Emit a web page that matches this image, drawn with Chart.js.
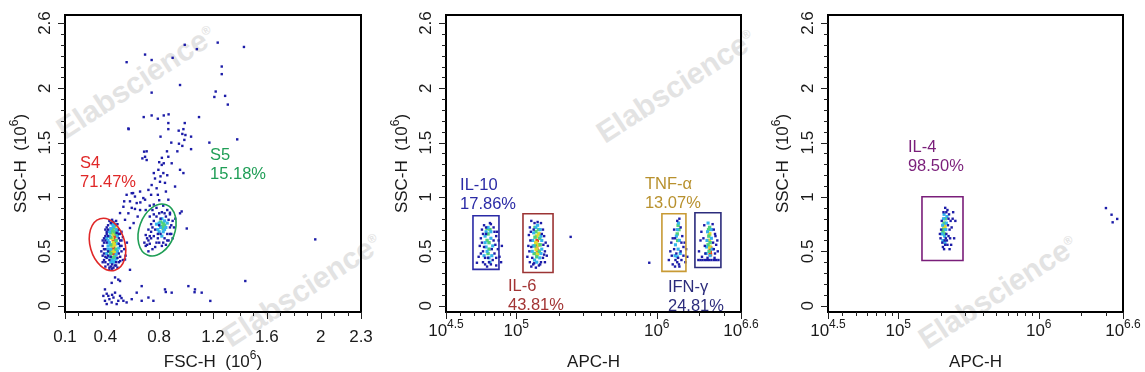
<!DOCTYPE html>
<html>
<head>
<meta charset="utf-8">
<script src="https://cdn.jsdelivr.net/npm/chart.js@4.4.1/dist/chart.umd.min.js"></script>
<style>
  html, body { margin: 0; padding: 0; background: #fff; }
  #wrap { position: relative; width: 1145px; height: 372px; overflow: hidden; }
  .panel { position: absolute; top: 0; height: 372px; z-index: 1; }
  .mark { position: absolute; z-index: 0; font: bold 30px 'Liberation Sans', Arial, sans-serif; color: #e3e3e3; white-space: nowrap; transform: translate(-50%, -50%) rotate(-33deg); }
  .mark sup { font-size: 12px; }
</style>
</head>
<body>
<div id="wrap">
  <div class="mark" style="left:136px;top:82px">Elabscience<sup>®</sup></div>
  <div class="mark" style="left:302px;top:290px">Elabscience<sup>®</sup></div>
  <div class="mark" style="left:676px;top:86px">Elabscience<sup>®</sup></div>
  <div class="mark" style="left:998px;top:292px">Elabscience<sup>®</sup></div>
  <div class="panel" style="left:0;width:381px"><canvas id="fscChart"></canvas></div>
  <div class="panel" style="left:381px;width:381px"><canvas id="apcChart"></canvas></div>
  <div class="panel" style="left:762px;width:383px"><canvas id="il4Chart"></canvas></div>
</div>
<script>
const FONT = "'Liberation Sans', Arial, sans-serif";
const INK = '#1a1a1a';

// axis ticks
const sscTicks = [0, 0.5, 1, 1.5, 2, 2.6];
const sscLabels = ['0', '0.5', '1', '1.5', '2', '2.6'];
const sscMinor = [0.1, 0.2, 0.3, 0.4, 0.6, 0.7, 0.8, 0.9, 1.1, 1.2, 1.3, 1.4, 1.6, 1.7, 1.8, 1.9, 2.1, 2.2, 2.3, 2.4, 2.5];
const fscTicks = [0.1, 0.4, 0.8, 1.2, 1.6, 2, 2.3];
const fscLabels = ['0.1', '0.4', '0.8', '1.2', '1.6', '2', '2.3'];
const fscMinor = [0.2, 0.3, 0.5, 0.6, 0.7, 0.9, 1.0, 1.1, 1.3, 1.4, 1.5, 1.7, 1.8, 1.9, 2.1, 2.2];
const apcExponents = ['4.5', '5', '6', '6.6'];
const apcMinor = [4e4, 5e4, 6e4, 7e4, 8e4, 9e4, 2e5, 3e5, 4e5, 5e5, 6e5, 7e5, 8e5, 9e5, 2e6, 3e6];

// panel 1: FSC-H vs SSC-H (both x10^6)
const fscSparse = [[0.558,2.24],[0.695,2.31],[0.744,2.26],[0.90,2.28],[0.99,2.40],[1.08,2.36],[1.235,2.42],[1.43,2.38],[1.265,2.20],[1.265,2.13],[0.955,2.03],[0.744,1.96],[1.22,1.97],[1.21,1.92],[1.29,1.93],[1.31,1.85],[0.685,1.735],[0.744,1.75],[0.79,1.72],[0.834,1.75],[0.87,1.76],[1.096,1.735],[0.573,1.624],[0.868,1.68],[0.99,1.68],[0.868,1.624],[0.945,1.61],[0.98,1.624],[0.972,1.58],[0.995,1.57],[1.037,1.555],[0.81,1.555],[0.89,1.50],[0.947,1.49],[0.987,1.525],[0.972,1.47],[1.037,1.44],[0.858,1.42],[0.935,1.42],[0.707,1.42],[1.173,1.50],[1.38,1.53],[0.675,1.355],[0.80,1.32],[0.868,1.37],[0.834,1.31]];
const fscBridge = [[0.695,1.37],[0.819,1.295],[0.794,1.25],[0.831,1.22],[0.769,1.17],[0.806,1.14],[0.744,1.11],[0.843,1.13],[0.781,1.08],[0.72,1.065],[0.658,1.05],[0.596,1.035],[0.558,1.02],[0.62,1.004],[0.682,0.99],[0.583,0.96],[0.633,0.944],[0.695,0.975],[0.534,0.91],[0.596,0.90],[0.658,0.88],[0.571,0.85],[0.546,0.79],[0.583,0.715],[0.967,0.867],[0.955,1.25],[0.893,1.31],[0.98,1.22],[0.918,1.096],[0.868,0.975],[0.509,0.852],[0.484,0.67],[1.005,0.71],[0.955,0.85],[0.88,0.855],[0.606,1.036],[0.688,1.417],[0.707,1.34],[0.571,1.63],[0.74,1.02],[0.76,0.93],[0.64,0.82],[0.61,0.76],[0.70,0.88],[0.85,1.05],[0.80,0.97],[0.76,1.22],[0.86,1.20],[0.82,1.36],[0.81,1.19],[0.79,1.02],[0.73,0.92],[0.66,0.95],[0.62,0.89],[0.54,0.96]];
const fscDebris = [[0.546,0.425],[0.583,0.33],[0.496,0.24],[0.447,0.21],[0.397,0.15],[0.472,0.12],[0.422,0.09],[0.509,0.09],[0.534,0.045],[0.447,0.03],[0.397,0.045],[0.596,0.06],[0.67,0.045],[0.72,0.075],[0.757,0.045],[0.633,0.12],[0.67,0.18],[0.843,0.15],[0.893,0.12],[1.017,0.18],[1.066,0.15],[1.116,0.12],[0.385,0.09],[0.46,0.075],[0.496,0.045],[0.41,0.015],[0.484,0.015],[0.558,0.03],[0.509,0.227],[0.472,0.26],[0.849,0.126],[1.063,0.124],[1.18,0.044],[1.44,0.227],[1.96,0.61],[0.43,0.06],[0.45,0.10],[0.52,0.07],[0.41,0.11]];
const s4Blue = [[0.38,0.40],[0.39,0.48],[0.38,0.55],[0.39,0.62],[0.40,0.70],[0.40,0.36],[0.41,0.44],[0.40,0.52],[0.41,0.58],[0.41,0.66],[0.42,0.74],[0.42,0.38],[0.43,0.33],[0.44,0.36],[0.45,0.34],[0.47,0.37],[0.49,0.35],[0.50,0.40],[0.51,0.45],[0.52,0.50],[0.51,0.55],[0.52,0.60],[0.51,0.66],[0.50,0.70],[0.49,0.75],[0.48,0.78],[0.46,0.77],[0.44,0.76],[0.53,0.42],[0.54,0.52],[0.53,0.63],[0.55,0.46],[0.56,0.58],[0.40,0.45],[0.42,0.50],[0.39,0.58],[0.43,0.42],[0.48,0.40],[0.50,0.62],[0.52,0.68],[0.38,0.46],[0.42,0.64],[0.49,0.44],[0.40,0.40],[0.41,0.72],[0.39,0.42],[0.40,0.60],[0.41,0.68],[0.43,0.78],[0.45,0.79],[0.50,0.48],[0.51,0.60],[0.52,0.55],[0.43,0.35],[0.46,0.35],[0.48,0.37],[0.42,0.46],[0.44,0.45],[0.39,0.52],[0.40,0.64],[0.42,0.70],[0.50,0.66],[0.50,0.57],[0.51,0.41],[0.45,0.38],[0.38,0.60],[0.37,0.50]];
const s4Cyan = [[0.41,0.48],[0.42,0.55],[0.42,0.60],[0.43,0.68],[0.43,0.45],[0.44,0.40],[0.46,0.40],[0.48,0.43],[0.49,0.50],[0.49,0.57],[0.49,0.64],[0.48,0.70],[0.46,0.73],[0.44,0.71],[0.42,0.52],[0.41,0.62],[0.47,0.75],[0.50,0.53],[0.43,0.58],[0.44,0.52],[0.45,0.42],[0.48,0.47],[0.47,0.41],[0.43,0.64],[0.45,0.75],[0.49,0.68]];
const s4Green = [[0.43,0.50],[0.44,0.56],[0.44,0.63],[0.45,0.69],[0.45,0.44],[0.47,0.45],[0.48,0.52],[0.48,0.60],[0.47,0.68],[0.46,0.72],[0.44,0.48],[0.48,0.66],[0.44,0.67],[0.47,0.74],[0.46,0.44]];
const s4Yellow = [[0.45,0.50],[0.46,0.58],[0.46,0.66],[0.47,0.71],[0.47,0.50],[0.45,0.62],[0.47,0.56],[0.45,0.55],[0.46,0.69]];
const s4Red = [[0.46,0.48],[0.46,0.53],[0.465,0.57],[0.46,0.61],[0.47,0.64],[0.47,0.60],[0.465,0.51],[0.47,0.67]];
const s5Blue = [[0.70,0.55],[0.72,0.60],[0.70,0.65],[0.72,0.70],[0.74,0.75],[0.73,0.82],[0.75,0.88],[0.78,0.90],[0.80,0.85],[0.83,0.92],[0.86,0.88],[0.88,0.84],[0.90,0.78],[0.91,0.72],[0.89,0.66],[0.87,0.60],[0.85,0.56],[0.82,0.55],[0.78,0.58],[0.75,0.52],[0.73,0.57],[0.76,0.64],[0.77,0.70],[0.76,0.78],[0.79,0.62],[0.81,0.66],[0.84,0.62],[0.86,0.66],[0.88,0.72],[0.84,0.85],[0.81,0.80],[0.78,0.82],[0.74,0.68],[0.71,0.62],[0.69,0.58],[0.92,0.80],[0.90,0.62],[0.83,0.58],[0.80,0.74],[0.87,0.79],[0.72,0.50],[0.77,0.54],[0.74,0.62],[0.75,0.72],[0.79,0.66],[0.80,0.58],[0.82,0.86],[0.85,0.82],[0.88,0.66],[0.86,0.60],[0.76,0.84],[0.73,0.64],[0.71,0.56],[0.89,0.74]];
const s5Cyan = [[0.79,0.70],[0.80,0.76],[0.82,0.80],[0.84,0.78],[0.85,0.72],[0.83,0.68],[0.81,0.72],[0.86,0.76],[0.78,0.75],[0.82,0.64],[0.80,0.68],[0.84,0.70]];
const s5Green = [[0.82,0.73],[0.83,0.76],[0.84,0.74],[0.81,0.77],[0.83,0.71]];

// panel 2: APC-H (linear units) vs SSC-H
const il10Blue = [[54000,0.45],[55000,0.55],[56000,0.62],[57000,0.70],[58000,0.40],[58000,0.50],[59000,0.74],[60000,0.38],[61000,0.66],[62000,0.36],[63000,0.44],[66000,0.38],[68000,0.42],[70000,0.48],[71000,0.56],[72000,0.64],[69000,0.72],[66000,0.75],[74000,0.52],[76000,0.45],[75000,0.60],[78000,0.40],[73000,0.68],[56000,0.48],[57000,0.58],[52500,0.395],[79000,0.55],[72000,0.37],[58000,0.66],[59000,0.54],[60000,0.44],[64000,0.40],[67000,0.52],[69000,0.60],[70000,0.68],[65000,0.76],[61000,0.72],[72000,0.44]];
const il10Cyan = [[59000,0.46],[60000,0.58],[61000,0.68],[62000,0.50],[63000,0.72],[66000,0.62],[67000,0.46],[65000,0.40],[68000,0.55],[60000,0.64],[61000,0.54],[66000,0.68],[64000,0.44]];
const il10Green = [[62000,0.60],[63000,0.66],[64000,0.52],[65000,0.70],[64000,0.58],[63000,0.48],[62000,0.71]];
const il6Blue = [[120000,0.45],[122000,0.55],[123000,0.65],[125000,0.72],[125000,0.40],[128000,0.36],[132000,0.38],[138000,0.35],[145000,0.37],[150000,0.40],[155000,0.44],[160000,0.50],[162000,0.58],[158000,0.64],[155000,0.70],[150000,0.76],[142000,0.77],[135000,0.76],[128000,0.78],[165000,0.46],[168000,0.55],[124000,0.50],[126000,0.60],[160000,0.40],[130000,0.44],[152000,0.66],[133000,0.70],[244000,0.633],[127000,0.68],[128000,0.54],[156000,0.56],[158000,0.47],[134000,0.39],[148000,0.38]];
const il6Cyan = [[130000,0.50],[131000,0.60],[133000,0.67],[135000,0.42],[140000,0.40],[147000,0.44],[152000,0.52],[152000,0.60],[148000,0.70],[138000,0.72],[132000,0.55],[150000,0.48],[150000,0.64],[142000,0.74]];
const il6Green = [[135000,0.55],[136000,0.63],[138000,0.68],[140000,0.45],[146000,0.50],[147000,0.62],[144000,0.70],[134000,0.48],[136000,0.72],[148000,0.56]];
const il6Yellow = [[138000,0.58],[140000,0.64],[144000,0.56],[142000,0.48],[145000,0.66],[139000,0.52]];
const il6Red = [[140000,0.52],[142000,0.56],[141000,0.60],[143000,0.50],[141000,0.48]];
const tnfBlue = [[1.22e6,0.42],[1.25e6,0.50],[1.27e6,0.58],[1.30e6,0.38],[1.35e6,0.36],[1.40e6,0.40],[1.45e6,0.36],[1.50e6,0.42],[1.55e6,0.46],[1.60e6,0.40],[1.62e6,0.52],[1.58e6,0.58],[1.52e6,0.64],[1.48e6,0.72],[1.45e6,0.80],[1.40e6,0.78],[1.33e6,0.70],[1.30e6,0.62],[1.38e6,0.48],[1.55e6,0.54],[1.65e6,0.45],[1.28e6,0.46],[1.42e6,0.44],[8.85e5,0.395],[1.33e6,0.52],[1.36e6,0.42],[1.48e6,0.50],[1.50e6,0.58],[1.35e6,0.62],[1.44e6,0.38]];
const tnfCyan = [[1.36e6,0.56],[1.38e6,0.64],[1.40e6,0.70],[1.42e6,0.52],[1.45e6,0.60],[1.35e6,0.46],[1.47e6,0.48],[1.43e6,0.76],[1.40e6,0.45]];
const tnfGreen = [[1.40e6,0.66],[1.42e6,0.74],[1.44e6,0.70],[1.41e6,0.60]];
const ifnBlue = [[2.0e6,0.50],[2.05e6,0.60],[2.08e6,0.68],[2.1e6,0.45],[2.6e6,0.48],[2.65e6,0.56],[2.62e6,0.64],[2.55e6,0.70],[2.5e6,0.75],[2.7e6,0.60],[2.72e6,0.50],[2.58e6,0.44],[2.18e6,0.74],[2.2e6,0.55],[2.52e6,0.58],[1.98e6,0.42],[2.05e6,0.42],[2.12e6,0.42],[2.2e6,0.42],[2.28e6,0.42],[2.36e6,0.42],[2.45e6,0.42],[2.55e6,0.42],[2.65e6,0.42],[2.75e6,0.42],[2.15e6,0.62],[2.22e6,0.48],[2.55e6,0.52],[2.6e6,0.66],[2.3e6,0.44]];
const ifnCyan = [[2.25e6,0.48],[2.28e6,0.60],[2.30e6,0.68],[2.45e6,0.62],[2.48e6,0.52],[2.40e6,0.46],[2.32e6,0.76],[2.26e6,0.54],[2.46e6,0.70]];
const ifnGreen = [[2.32e6,0.56],[2.35e6,0.64],[2.38e6,0.72],[2.40e6,0.58],[2.36e6,0.50],[2.34e6,0.70]];
const ifnYellow = [[2.37e6,0.60],[2.38e6,0.66],[2.39e6,0.54]];
const ifnRed = [[2.4e6,0.50],[2.42e6,0.53],[2.41e6,0.47]];

// panel 3: IL-4
const il4Blue = [[200000,0.62],[202000,0.70],[204000,0.78],[206000,0.58],[208000,0.54],[212000,0.52],[216000,0.56],[222000,0.60],[228000,0.64],[232000,0.70],[236000,0.78],[230000,0.84],[224000,0.88],[216000,0.90],[210000,0.86],[240000,0.72],[244000,0.80],[250000,0.62],[238000,0.56],[226000,0.74],[220000,0.66],[246000,0.86],[255000,0.78],[198000,0.66],[214000,0.60],[232000,0.52],[224000,0.56],[218000,0.62],[228000,0.80],[234000,0.62],[220000,0.86],[3.01e6,0.898],[3.30e6,0.837],[3.36e6,0.767],[3.62e6,0.798]];
const il4Cyan = [[205000,0.66],[207000,0.74],[210000,0.80],[214000,0.64],[218000,0.70],[222000,0.82],[215000,0.58],[208000,0.60],[220000,0.76],[212000,0.84]];
const il4Green = [[210000,0.70],[212000,0.76],[216000,0.80],[213000,0.66],[208000,0.68]];
const il4Yellow = [[212000,0.73],[214000,0.72]];
const il4Red = [[213000,0.725]];

const density = [
  { color: '#1c1ca8', r: 1.7 },
  { color: '#35b4ec', r: 2.2 },
  { color: '#4fd27a', r: 2.4 },
  { color: '#dedc2c', r: 2.6 },
  { color: '#e2481e', r: 2.6 },
];

function levelSets(levels) {
  // levels: array of point lists, index = density level
  const sets = [];
  levels.forEach((pts, lvl) => {
    pts.forEach(list => {
      sets.push({
        data: list.map(p => ({ x: p[0], y: p[1] })),
        pointStyle: 'rect',
        pointRadius: density[lvl].r,
        pointBorderWidth: 0,
        backgroundColor: density[lvl].color,
        borderColor: density[lvl].color,
        showLine: false,
      });
    });
  });
  return sets;
}

function drawParts(ctx, parts, x, y, size, align) {
  const supSize = Math.round(size * 0.72);
  const widths = parts.map(p => {
    ctx.font = (p.sup ? supSize : size) + 'px ' + FONT;
    return ctx.measureText(p.t).width;
  });
  const total = widths.reduce((a, b) => a + b, 0);
  let cx = align === 'center' ? x - total / 2 : x;
  parts.forEach((p, i) => {
    ctx.font = (p.sup ? supSize : size) + 'px ' + FONT;
    ctx.fillText(p.t, cx, p.sup ? y - size * 0.5 : y);
    cx += widths[i];
  });
}

const flowDecor = {
  id: 'flowDecor',
  afterDatasetsDraw(chart, args, opts) {
    const ctx = chart.ctx;
    const a = chart.chartArea;
    const xs = chart.scales.x, ys = chart.scales.y;
    ctx.save();

    // gates and their labels
    opts.gates.forEach(g => {
      ctx.strokeStyle = g.color;
      ctx.lineWidth = 1.6;
      ctx.beginPath();
      if (g.shape === 'ellipse') {
        const cx = xs.getPixelForValue(g.cx), cy = ys.getPixelForValue(g.cy);
        const rx = Math.abs(xs.getPixelForValue(g.cx + g.rx) - cx);
        const ry = Math.abs(ys.getPixelForValue(g.cy + g.ry) - cy);
        ctx.ellipse(cx, cy, rx, ry, g.tilt, 0, Math.PI * 2);
      } else {
        const x0 = xs.getPixelForValue(g.x0), x1 = xs.getPixelForValue(g.x1);
        const y0 = ys.getPixelForValue(g.y0), y1 = ys.getPixelForValue(g.y1);
        ctx.rect(x0, y1, x1 - x0, y0 - y1);
      }
      ctx.stroke();
      ctx.fillStyle = g.textColor;
      ctx.font = '16.5px ' + FONT;
      ctx.textAlign = 'left';
      ctx.textBaseline = 'alphabetic';
      const lx = xs.getPixelForValue(g.lx), ly = ys.getPixelForValue(g.ly);
      ctx.fillText(g.name, lx, ly);
      ctx.fillText(g.pct, lx, ly + 19);
    });

    // frame
    ctx.strokeStyle = '#000';
    ctx.lineWidth = 2;
    ctx.strokeRect(a.left, a.top, a.right - a.left, a.bottom - a.top);

    // tick marks
    ctx.lineWidth = 1;
    ctx.strokeStyle = '#222';
    ctx.beginPath();
    sscTicks.forEach(v => { const p = Math.round(ys.getPixelForValue(v)) + 0.5; ctx.moveTo(a.left - 7, p); ctx.lineTo(a.left, p); });
    sscMinor.forEach(v => { const p = Math.round(ys.getPixelForValue(v)) + 0.5; ctx.moveTo(a.left - 4, p); ctx.lineTo(a.left, p); });
    opts.xMajor.forEach(v => { const p = Math.round(xs.getPixelForValue(v)) + 0.5; ctx.moveTo(p, a.bottom); ctx.lineTo(p, a.bottom + 7); });
    opts.xMinor.forEach(v => { const p = Math.round(xs.getPixelForValue(v)) + 0.5; ctx.moveTo(p, a.bottom); ctx.lineTo(p, a.bottom + 4); });
    ctx.stroke();

    ctx.fillStyle = INK;
    ctx.textBaseline = 'alphabetic';

    // y tick labels, rotated
    sscTicks.forEach((v, i) => {
      ctx.save();
      ctx.translate(a.left - 15, ys.getPixelForValue(v));
      ctx.rotate(-Math.PI / 2);
      ctx.font = '17px ' + FONT;
      ctx.textAlign = 'center';
      ctx.fillText(sscLabels[i], 0, 0);
      ctx.restore();
    });

    // x tick labels
    ctx.textAlign = 'left';
    opts.xLabels.forEach(l => {
      const px = xs.getPixelForValue(l.v);
      if (l.exp) {
        drawParts(ctx, [{ t: '10' }, { t: l.exp, sup: true }], px, a.bottom + 24, 17, 'center');
      } else {
        ctx.font = '17px ' + FONT;
        const w = ctx.measureText(l.text).width;
        ctx.fillText(l.text, px - w / 2, a.bottom + 30);
      }
    });

    // axis titles
    const midX = (a.left + a.right) / 2;
    drawParts(ctx, opts.xTitle, midX, a.bottom + 55, 17, 'center');
    ctx.save();
    ctx.translate(26, (a.top + a.bottom) / 2);
    ctx.rotate(-Math.PI / 2);
    drawParts(ctx, [{ t: 'SSC-H  (10' }, { t: '6', sup: true }, { t: ')' }], 0, 0, 17, 'center');
    ctx.restore();

    ctx.restore();
  }
};

function makePanel(canvasId, xScale, datasets, decor, plotLeft, padRight) {
  const ctx = document.getElementById(canvasId);
  return new Chart(ctx, {
    type: 'scatter',
    data: { datasets },
    options: {
      responsive: true,
      maintainAspectRatio: false,
      animation: false,
      events: [],
      layout: { padding: { top: 15, right: padRight, left: 0, bottom: 0 }, autoPadding: false },
      plugins: {
        legend: { display: false },
        tooltip: { enabled: false },
        flowDecor: decor,
      },
      scales: {
        x: Object.assign({
          bounds: 'data',
          grid: { display: false },
          border: { display: false },
          ticks: { display: false },
          afterFit: (s) => { s.height = 60; },
        }, xScale),
        y: {
          type: 'linear',
          min: -0.058,
          max: 2.674,
          bounds: 'data',
          grid: { display: false },
          border: { display: false },
          ticks: { display: false },
          afterFit: (s) => { s.width = plotLeft; },
        }
      }
    },
    plugins: [flowDecor]
  });
}

const apcLabels = apcExponents.map(e => ({ v: Math.pow(10, parseFloat(e)), exp: e }));
const apcMajor = apcExponents.map(e => Math.pow(10, parseFloat(e)));
const logX = { type: 'logarithmic', min: Math.pow(10, 4.5), max: Math.pow(10, 6.6) };

makePanel('fscChart', { type: 'linear', min: 0.1, max: 2.3 },
  levelSets([[fscSparse, fscBridge, fscDebris, s4Blue, s5Blue], [s4Cyan, s5Cyan], [s4Green, s5Green], [s4Yellow], [s4Red]]),
  {
    gates: [
      { shape: 'ellipse', cx: 0.416, cy: 0.563, rx: 0.129, ry: 0.247, tilt: -0.28, color: '#e02828', textColor: '#e02828', name: 'S4', pct: '71.47%', lx: 0.212, ly: 1.267 },
      { shape: 'ellipse', cx: 0.784, cy: 0.696, rx: 0.132, ry: 0.247, tilt: 0.35, color: '#1f9e56', textColor: '#1f9e56', name: 'S5', pct: '15.18%', lx: 1.178, ly: 1.34 },
    ],
    xMajor: fscTicks,
    xMinor: fscMinor,
    xLabels: fscTicks.map((v, i) => ({ v, text: fscLabels[i] })),
    xTitle: [{ t: 'FSC-H  (10' }, { t: '6', sup: true }, { t: ')' }],
  }, 65, 20);

makePanel('apcChart', logX,
  levelSets([[il10Blue, il6Blue, tnfBlue, ifnBlue], [il10Cyan, il6Cyan, tnfCyan, ifnCyan], [il10Green, il6Green, tnfGreen, ifnGreen], [il6Yellow, ifnYellow], [il6Red, ifnRed]]),
  {
    gates: [
      { shape: 'rect', x0: Math.pow(10, 4.692), x1: Math.pow(10, 4.877), y0: 0.334, y1: 0.828, color: '#2a2aa6', textColor: '#2a2aa6', name: 'IL-10', pct: '17.86%', lx: Math.pow(10, 4.6), ly: 1.068 },
      { shape: 'rect', x0: Math.pow(10, 5.048), x1: Math.pow(10, 5.262), y0: 0.306, y1: 0.846, color: '#9c3434', textColor: '#a33434', name: 'IL-6', pct: '43.81%', lx: Math.pow(10, 4.941), ly: 0.135 },
      { shape: 'rect', x0: Math.pow(10, 6.037), x1: Math.pow(10, 6.208), y0: 0.316, y1: 0.846, color: '#c89a34', textColor: '#b8912e', name: 'TNF-α', pct: '13.07%', lx: Math.pow(10, 5.916), ly: 1.074 },
      { shape: 'rect', x0: Math.pow(10, 6.272), x1: Math.pow(10, 6.457), y0: 0.352, y1: 0.855, color: '#2c2c7c', textColor: '#2c2c7c', name: 'IFN-γ', pct: '24.81%', lx: Math.pow(10, 6.08), ly: 0.126 },
    ],
    xMajor: apcMajor,
    xMinor: apcMinor,
    xLabels: apcLabels,
    xTitle: [{ t: 'APC-H' }],
  }, 65, 21);

makePanel('il4Chart', logX,
  levelSets([[il4Blue], [il4Cyan], [il4Green], [il4Yellow], [il4Red]]),
  {
    gates: [
      { shape: 'rect', x0: Math.pow(10, 5.169), x1: Math.pow(10, 5.461), y0: 0.416, y1: 1.002, color: '#7a1e7a', textColor: '#7a1e7a', name: 'IL-4', pct: '98.50%', lx: Math.pow(10, 5.069), ly: 1.414 },
    ],
    xMajor: apcMajor,
    xMinor: apcMinor,
    xLabels: apcLabels,
    xTitle: [{ t: 'APC-H' }],
  }, 66, 22);
</script>
</body>
</html>
